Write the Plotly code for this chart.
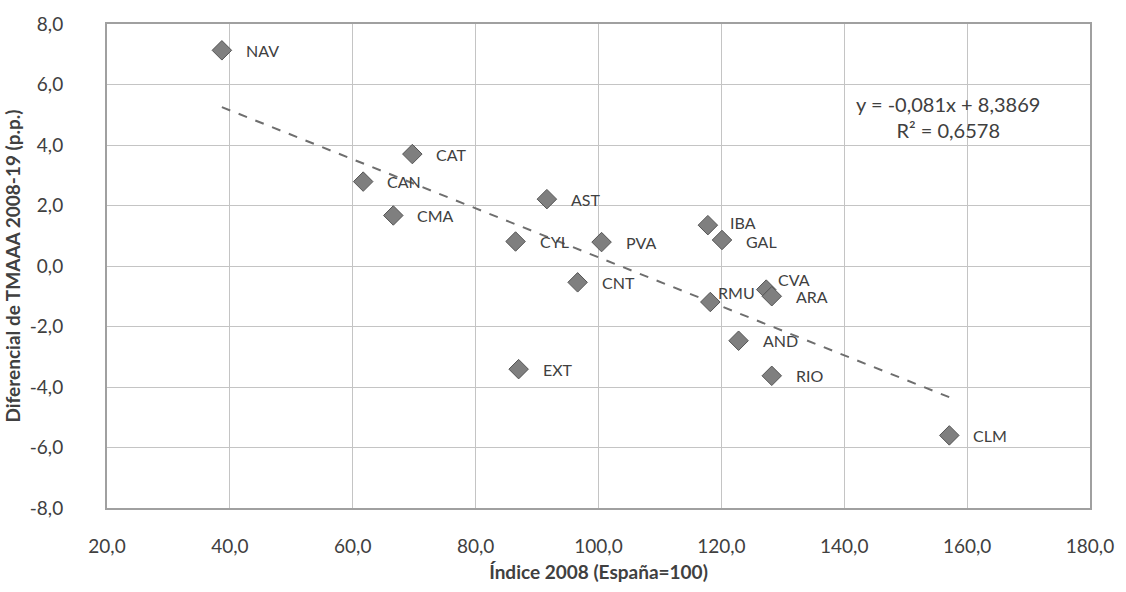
import plotly.graph_objects as go

# Regional data: 2008 index (Spain = 100) vs. TMAAA differential 2008-19 (p.p.)
regions = ["NAV", "CAT", "CAN", "CMA", "AST", "CYL", "PVA", "CNT", "EXT",
           "IBA", "GAL", "RMU", "CVA", "ARA", "AND", "RIO", "CLM"]
index_2008 = [38.7, 69.7, 61.7, 66.6, 91.6, 86.5, 100.5, 96.6, 87.0,
              117.8, 120.1, 118.2, 127.3, 128.2, 122.8, 128.2, 157.1]
tmaaa_diff = [7.13, 3.70, 2.79, 1.67, 2.21, 0.81, 0.79, -0.54, -3.41,
              1.35, 0.86, -1.19, -0.78, -1.00, -2.47, -3.63, -5.60]

# Linear trend reported on the chart
slope = -0.081
intercept = 8.3869
r_squared = 0.6578

x_ticks = [20, 40, 60, 80, 100, 120, 140, 160, 180]
y_ticks = [-8, -6, -4, -2, 0, 2, 4, 6, 8]


def es_num(v, dec=1):
    """Format a number with a decimal comma and an ASCII hyphen minus."""
    return f"{v:.{dec}f}".replace(".", ",")


FONT = "Lato"
TXT = "#404040"

fig = go.Figure()

# Trend line across the range of observed x values
x_lo, x_hi = min(index_2008), max(index_2008)
fig.add_trace(go.Scatter(
    x=[x_lo, x_hi],
    y=[slope * x_lo + intercept, slope * x_hi + intercept],
    mode="lines",
    line=dict(color="#6e6e6e", width=2, dash="dash"),
    hoverinfo="skip",
    showlegend=False,
))

fig.add_trace(go.Scatter(
    x=index_2008,
    y=tmaaa_diff,
    mode="markers",
    marker=dict(symbol="diamond", size=15, color="#7f7f7f",
                line=dict(color="#555555", width=1)),
    showlegend=False,
))

# Label offsets (pixels) for points whose label sits away from the default spot
label_shift = {"RMU": (6, 10), "CVA": (10, 10), "IBA": (20, 3),
               "GAL": (22, -2)}

for name, xv, yv in zip(regions, index_2008, tmaaa_diff):
    dx, dy = label_shift.get(name, (22, 0))
    fig.add_annotation(
        x=xv, y=yv, text=name, showarrow=False,
        xanchor="left", yanchor="middle", xshift=dx, yshift=dy,
        font=dict(family=FONT, size=16, color=TXT),
    )

eq_text = (f"y = {es_num(slope, 3)}x + {es_num(intercept, 4)}"
           + "<br>R² = " + es_num(r_squared, 4))
fig.add_annotation(
    x=156.9, y=4.92, xref="x", yref="y", text=eq_text,
    showarrow=False, align="center", xanchor="center", yanchor="middle",
    font=dict(family=FONT, size=20, color=TXT),
)

axis_common = dict(
    showgrid=True, gridcolor="#c4c4c4", gridwidth=1,
    showline=True, mirror=True, linecolor="#a0a0a0", linewidth=2,
    zeroline=False, ticks="",
)

fig.update_layout(
    width=1126, height=592,
    margin=dict(l=107, r=35, t=17, b=82),
    paper_bgcolor="white",
    plot_bgcolor="white",
    font=dict(family=FONT, size=16, color=TXT),
    xaxis=dict(
        range=[20, 180], tickvals=x_ticks,
        ticktext=[es_num(v) for v in x_ticks],
        ticklabelstandoff=20,
        tickfont=dict(family=FONT, size=19, color=TXT),
        title=dict(text="<b>Índice 2008 (España=100)</b>",
                   font=dict(family=FONT, size=19, color=TXT), standoff=10),
        **axis_common,
    ),
    yaxis=dict(
        range=[-8, 8], tickvals=y_ticks,
        ticktext=[es_num(v) for v in y_ticks],
        ticklabelstandoff=38,
        tickfont=dict(family=FONT, size=19, color=TXT),
        title=dict(text="<b>Diferencial de TMAAA 2008-19 (p.p.)</b>",
                   font=dict(family=FONT, size=19, color=TXT), standoff=4),
        **axis_common,
    ),
)

fig.write_html("out.html")
